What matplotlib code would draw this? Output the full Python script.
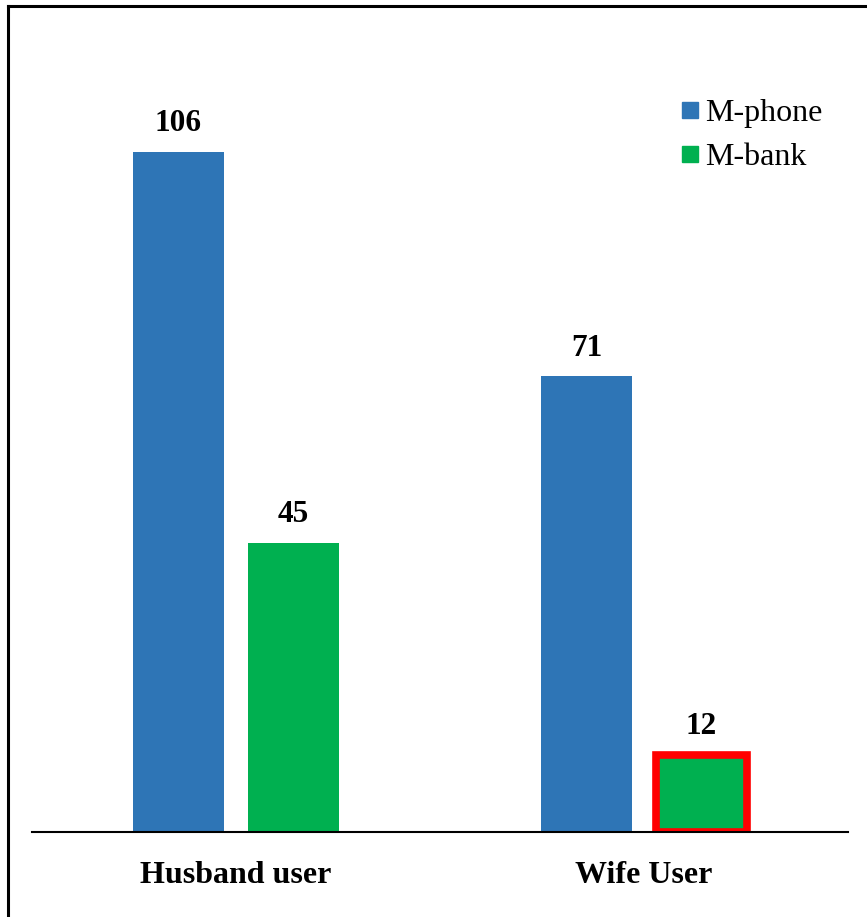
import matplotlib
matplotlib.use("Agg")
import matplotlib.pyplot as plt
import numpy as np
from matplotlib.lines import Line2D

categories = ["Husband user", "Wife User"]
series_names = ["M-phone", "M-bank"]
m_phone = [106, 71]
m_bank = [45, 12]
colors = ["#2E75B6", "#00B050"]

plt.rcParams['font.family'] = ['Liberation Serif', 'DejaVu Serif']

W, H = 867, 917
fig = plt.figure(figsize=(W / 100, H / 100), dpi=100)

# axes placement in pixels
left, right, bottom_px, top_px = 32, 848, 832, 62
ax = fig.add_axes([left / W, 1 - bottom_px / H, (right - left) / W, (bottom_px - top_px) / H])

x = np.arange(len(categories))
width = 0.223
off = 0.141
b1 = ax.bar(x - off, m_phone, width, color=colors[0], label=series_names[0], zorder=2)
b2 = ax.bar(x + off, m_bank, width, color=colors[1], label=series_names[1], zorder=2)
# highlight wife M-bank bar
b2[1].set_edgecolor("#FF0000")
b2[1].set_linewidth(5.5)

for bars, vals in ((b1, m_phone), (b2, m_bank)):
    for r, v in zip(bars, vals):
        ax.annotate(str(v), (r.get_x() + r.get_width() / 2, r.get_height()),
                    xytext=(0, 10), textcoords="offset points",
                    ha="center", va="bottom", fontsize=22.5, fontweight="bold")

ax.set_xlim(-0.5, 1.5)
ax.set_ylim(0, 120)
for s in ("top", "right", "left"):
    ax.spines[s].set_visible(False)
ax.spines["bottom"].set_linewidth(1.5)
ax.set_yticks([])
ax.set_xticks(x)
ax.set_xticklabels(categories, fontsize=23, fontweight="bold")
ax.tick_params(axis="x", length=0, pad=21)

handles = [Line2D([0], [0], marker="s", color="none", markerfacecolor=c,
                  markeredgecolor=c, markersize=12) for c in colors]
leg = fig.legend(handles, series_names, loc="upper right",
                 bbox_to_anchor=(835 / W, 1 - 86 / H), frameon=False,
                 fontsize=23, handlelength=0.7, handletextpad=0.1,
                 labelspacing=0.45, borderaxespad=0)

# outer frame (top and left lines only, as in reference)
fig.add_artist(Line2D([8 / W, 8 / W], [0, 1 - 6 / H], color="black", lw=2.2,
                      transform=fig.transFigure))
fig.add_artist(Line2D([8 / W, 1], [1 - 6 / H, 1 - 6 / H], color="black", lw=2.2,
                      transform=fig.transFigure))

fig.savefig("out.png", dpi=100)
